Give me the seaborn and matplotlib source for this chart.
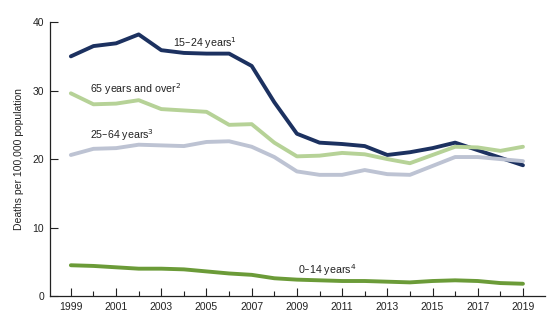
import matplotlib
matplotlib.use("Agg")
import matplotlib.pyplot as plt
import seaborn as sns
import pandas as pd
from matplotlib.ticker import MultipleLocator

years = list(range(1999, 2020))
age_15_24 = [35.0, 36.5, 36.9, 38.2, 35.9, 35.5, 35.4, 35.4, 33.6, 28.3, 23.7, 22.4, 22.2, 21.9, 20.6, 21.0, 21.6, 22.4, 21.3, 20.2, 19.1]
age_65_over = [29.6, 28.0, 28.1, 28.6, 27.3, 27.1, 26.9, 25.0, 25.1, 22.4, 20.4, 20.5, 20.9, 20.7, 20.0, 19.4, 20.6, 21.8, 21.7, 21.2, 21.8]
age_25_64 = [20.6, 21.5, 21.6, 22.1, 22.0, 21.9, 22.5, 22.6, 21.8, 20.3, 18.2, 17.7, 17.7, 18.4, 17.8, 17.7, 19.0, 20.3, 20.3, 20.0, 19.7]
age_0_14 = [4.5, 4.4, 4.2, 4.0, 4.0, 3.9, 3.6, 3.3, 3.1, 2.6, 2.4, 2.3, 2.2, 2.2, 2.1, 2.0, 2.2, 2.3, 2.2, 1.9, 1.8]

groups = ["15–24 years", "65 years and over", "25–64 years", "0–14 years"]
colors = ["#1c3160", "#b6d297", "#bdc3d3", "#6b9b38"]
label_text = ["15–24 years$^1$", "65 years and over$^2$", "25–64 years$^3$", "0–14 years$^4$"]
label_pos = [(2003.5, 36.9), (1999.85, 30.2), (1999.85, 23.5), (2009.05, 3.8)]
x_tick_labels = [str(y) for y in range(1999, 2020, 2)]

series = [age_15_24, age_65_over, age_25_64, age_0_14]
df = pd.DataFrame({
    "year": years * 4,
    "rate": sum(series, []),
    "group": sum([[g] * len(years) for g in groups], []),
})

sns.set_style("white")
plt.rcParams['font.family'] = ['Liberation Sans', 'DejaVu Sans']

fig = plt.figure(figsize=(5.6, 3.25), dpi=100)
ax = fig.add_axes([0.089, 0.089, 0.884, 0.843])
sns.lineplot(data=df, x="year", y="rate", hue="group", hue_order=groups,
             palette=colors, linewidth=2.8, legend=False, ax=ax)

for txt, (x, y) in zip(label_text, label_pos):
    ax.text(x, y, txt, fontsize=7.7, color="#222222", ha="left", va="center")

ax.set_xlim(1998.07, 2019.97)
ax.set_ylim(0, 40)
ax.set_xticks(list(range(1999, 2020, 2)))
ax.set_xticklabels(x_tick_labels)
ax.xaxis.set_minor_locator(MultipleLocator(1))
ax.set_yticks([0, 10, 20, 30, 40])
ax.tick_params(axis="both", which="major", direction="in", length=6, width=0.8,
               labelsize=7.5, colors="#222222", pad=4, bottom=True, left=True)
ax.tick_params(axis="x", which="minor", direction="in", length=3.5, width=0.8,
               bottom=True, colors="#222222")
ax.set_xlabel("")
ax.set_ylabel("Deaths per 100,000 population", fontsize=7.5, color="#222222", labelpad=6)
for s in ["top", "right"]:
    ax.spines[s].set_visible(False)
for s in ["left", "bottom"]:
    ax.spines[s].set_color("#222222")
    ax.spines[s].set_linewidth(0.9)

fig.savefig("out.png", dpi=100)
